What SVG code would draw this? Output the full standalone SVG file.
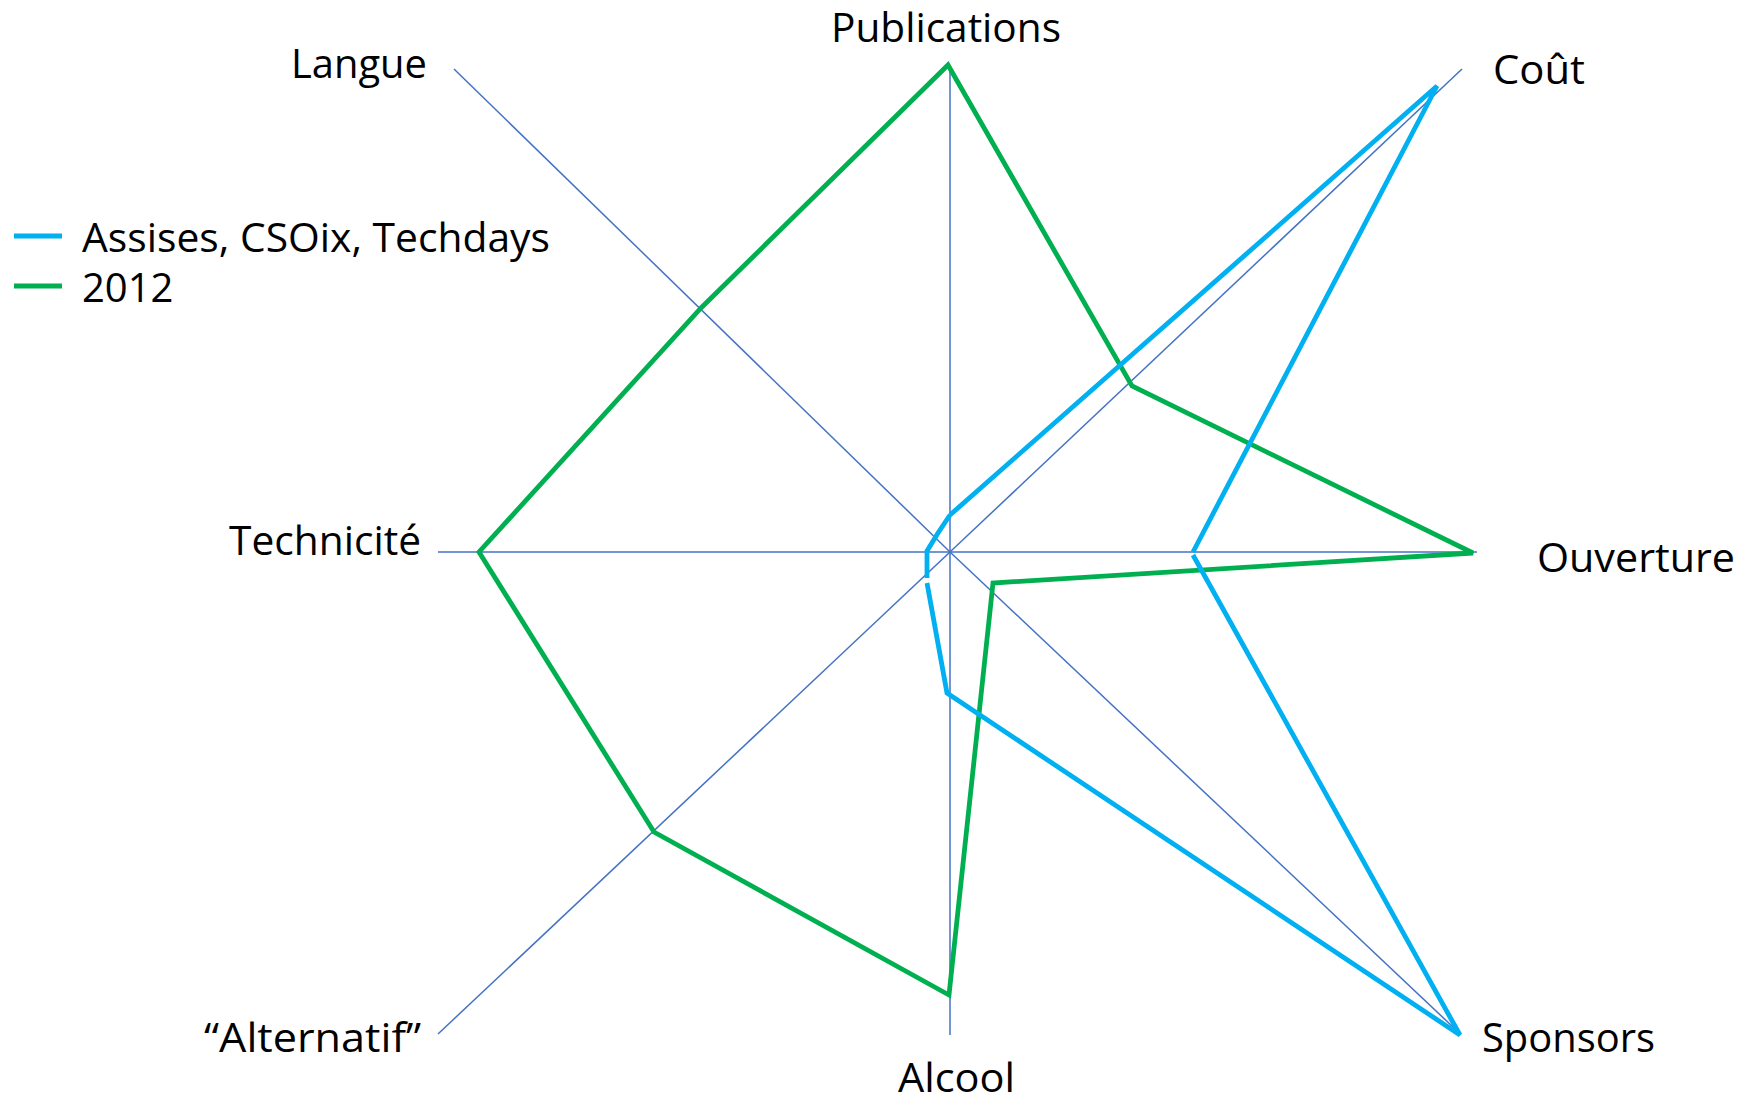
<svg xmlns="http://www.w3.org/2000/svg" width="1754" height="1104" viewBox="0 0 1754 1104">
  <style>
    .axis { stroke: #4472C4; stroke-width: 1.5; fill: none; }
    .lbl { font-family: "Open Sans", "Liberation Sans", sans-serif; font-size: 40px; fill: #000000; }
    .s1 { stroke: #00B0F0; stroke-width: 4.8; fill: none; stroke-linejoin: miter; stroke-miterlimit: 2; stroke-linecap: butt; }
    .s2 { stroke: #00B050; stroke-width: 4.8; fill: none; stroke-linejoin: miter; stroke-miterlimit: 2; stroke-linecap: butt; }
  </style>
  <rect width="1754" height="1104" fill="#FFFFFF"/>
  <g id="axes">
    <line class="axis" x1="950" y1="552" x2="950" y2="67"/>
    <line class="axis" x1="950" y1="552" x2="1462" y2="69"/>
    <line class="axis" x1="950" y1="552" x2="1477" y2="552"/>
    <line class="axis" x1="950" y1="552" x2="1453" y2="1027"/>
    <line class="axis" x1="950" y1="552" x2="950" y2="1035"/>
    <line class="axis" x1="950" y1="552" x2="438" y2="1034"/>
    <line class="axis" x1="950" y1="552" x2="438" y2="552"/>
    <line class="axis" x1="950" y1="552" x2="454" y2="69"/>
  </g>
  <g id="series-2012">
    <path class="s2" d="M948,65 L1132,386 L1473,553 L993,583 L949,995 L654,832 L479,552 L701,308 Z"/>
  </g>
  <g id="series-assises">
    <path class="s1" d="M950,515 L1437,86 L1193,552 M1193,555 L1460,1035 L947,693 L927,583 M927,578 L927,551 L938,533 L950,515"/>
  </g>
  <g id="label-publications"><text class="lbl" x="831" y="42" textLength="230" lengthAdjust="spacingAndGlyphs">Publications</text></g>
  <g id="label-cout"><text class="lbl" x="1493" y="84" textLength="92" lengthAdjust="spacingAndGlyphs">Coût</text></g>
  <g id="label-ouverture"><text class="lbl" x="1537" y="572" textLength="198" lengthAdjust="spacingAndGlyphs">Ouverture</text></g>
  <g id="label-sponsors"><text class="lbl" x="1482" y="1052" textLength="173" lengthAdjust="spacingAndGlyphs">Sponsors</text></g>
  <g id="label-alcool"><text class="lbl" x="898" y="1092" textLength="117" lengthAdjust="spacingAndGlyphs">Alcool</text></g>
  <g id="label-alternatif"><text class="lbl" x="204" y="1052" textLength="217" lengthAdjust="spacingAndGlyphs">“Alternatif”</text></g>
  <g id="label-technicite"><text class="lbl" x="229" y="555" textLength="192" lengthAdjust="spacingAndGlyphs">Technicité</text></g>
  <g id="label-langue"><text class="lbl" x="291" y="78" textLength="136" lengthAdjust="spacingAndGlyphs">Langue</text></g>
  <g id="legend">
    <line x1="14" y1="236" x2="62" y2="236" stroke="#00B0F0" stroke-width="5"/>
    <text class="lbl" x="82" y="252" textLength="468" lengthAdjust="spacingAndGlyphs">Assises, CSOix, Techdays</text>
    <line x1="14" y1="286" x2="62" y2="286" stroke="#00B050" stroke-width="5"/>
    <text class="lbl" x="82" y="302">2012</text>
  </g>
</svg>
